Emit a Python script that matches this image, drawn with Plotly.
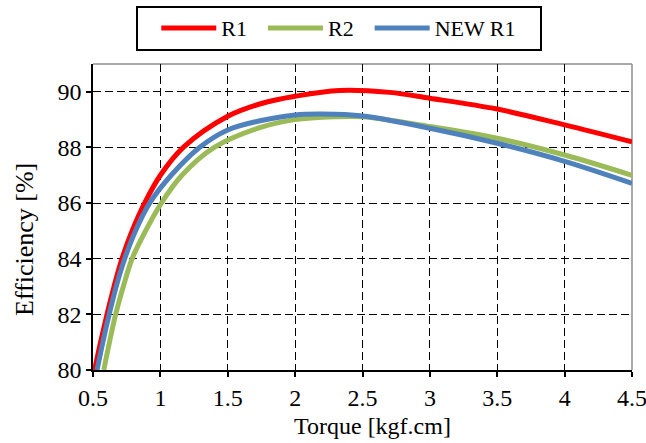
import plotly.graph_objects as go

r1_x = [0.512, 0.556, 0.604, 0.656, 0.715, 0.79, 0.883, 1.00, 1.17, 1.50, 1.75, 2.00, 2.33, 2.70, 3.00, 3.50, 4.00, 4.50]
r1_y = [80.0, 81.0, 82.0, 83.0, 84.0, 85.0, 86.0, 87.0, 88.0, 89.12, 89.58, 89.84, 90.05, 89.98, 89.77, 89.38, 88.81, 88.2]

r2_x = [0.58, 0.622, 0.668, 0.725, 0.79, 0.89, 1.007, 1.16, 1.40, 1.75, 2.00, 2.30, 2.50, 3.00, 3.50, 4.00, 4.50]
r2_y = [80.0, 81.0, 82.0, 83.0, 84.0, 85.0, 86.0, 87.0, 88.0, 88.73, 89.0, 89.1, 89.1, 88.75, 88.33, 87.73, 87.0]

new_x = [0.53, 0.573, 0.62, 0.672, 0.735, 0.815, 0.92, 1.08, 1.29, 1.50, 1.75, 2.00, 2.20, 2.50, 3.00, 3.50, 4.00, 4.50]
new_y = [80.0, 81.0, 82.0, 83.0, 84.0, 85.0, 86.0, 87.0, 88.0, 88.63, 88.97, 89.17, 89.2, 89.13, 88.69, 88.15, 87.5, 86.71]

series_names = ["R1\u00a0\u00a0", "R2\u00a0\u00a0", "NEW R1"]
x_ticks = [0.5, 1, 1.5, 2, 2.5, 3, 3.5, 4, 4.5]
y_ticks = [80, 82, 84, 86, 88, 90]

FONT = "Liberation Serif, Times New Roman, serif"
GRID_DASH = "8px,4px"

fig = go.Figure()
for name, xs, ys, col in [(series_names[0], r1_x, r1_y, "#FF0000"),
                          (series_names[1], r2_x, r2_y, "#9BBB59"),
                          (series_names[2], new_x, new_y, "#4F81BD")]:
    fig.add_trace(go.Scatter(x=xs, y=ys, name=name, mode="lines",
                             line=dict(color=col, width=5, shape="spline", smoothing=1.0)))

fig.update_layout(
    width=646, height=443,
    margin=dict(l=93, r=14, t=64, b=73, autoexpand=False),
    paper_bgcolor="white", plot_bgcolor="white",
    font=dict(family=FONT, size=24, color="black"),
    legend=dict(orientation="h", x=0.456, xanchor="center", y=1.186, yanchor="top",
                borderwidth=0, bgcolor="rgba(0,0,0,0)",
                font=dict(family=FONT, size=22), itemwidth=55, tracegroupgap=0),
    showlegend=True,
)
fig.update_xaxes(range=[0.5, 4.5], tickvals=x_ticks, ticktext=[str(v) for v in x_ticks],
                 showline=True, linecolor="black", linewidth=1.5,
                 ticks="outside", ticklen=5, tickcolor="black", tickwidth=1.5,
                 showgrid=True, gridcolor="black", griddash=GRID_DASH, gridwidth=1.4,
                 zeroline=False, automargin=False, ticklabeloverflow="allow",
                 tickfont=dict(family=FONT, size=24))
fig.update_yaxes(range=[80, 91], tickvals=y_ticks,
                 showline=True, linecolor="black", linewidth=1.5,
                 ticks="outside", ticklen=5, tickcolor="black", tickwidth=1.5,
                 showgrid=True, gridcolor="black", griddash=GRID_DASH, gridwidth=1.4,
                 zeroline=False, automargin=False, ticklabeloverflow="allow",
                 tickfont=dict(family=FONT, size=24))
fig.add_shape(type="line", xref="paper", yref="paper", x0=0, x1=1, y0=1, y1=1,
              line=dict(color="#8C8C8C", width=1.5), layer="below")
fig.add_shape(type="line", xref="paper", yref="paper", x0=1, x1=1, y0=0, y1=1,
              line=dict(color="#8C8C8C", width=1.5), layer="below")
# legend frame
fig.add_shape(type="rect", xref="paper", yref="paper",
              x0=(137 - 93) / 539, x1=(541 - 93) / 539,
              y0=(370 - 50) / 306, y1=(370 - 7) / 306,
              line=dict(color="black", width=2), fillcolor="white", layer="below")
fig.add_annotation(text="Torque [kgf.cm]", xref="paper", yref="paper",
                   x=(372 - 93) / 539, y=(370 - 426) / 306, xanchor="center", yanchor="middle",
                   showarrow=False, font=dict(family=FONT, size=24))
fig.add_annotation(text="Efficiency [%]", xref="paper", yref="paper", textangle=-90,
                   x=(24 - 93) / 539, y=(370 - 240) / 306, xanchor="center", yanchor="middle",
                   showarrow=False, font=dict(family=FONT, size=26))

fig.write_html("out.html")
